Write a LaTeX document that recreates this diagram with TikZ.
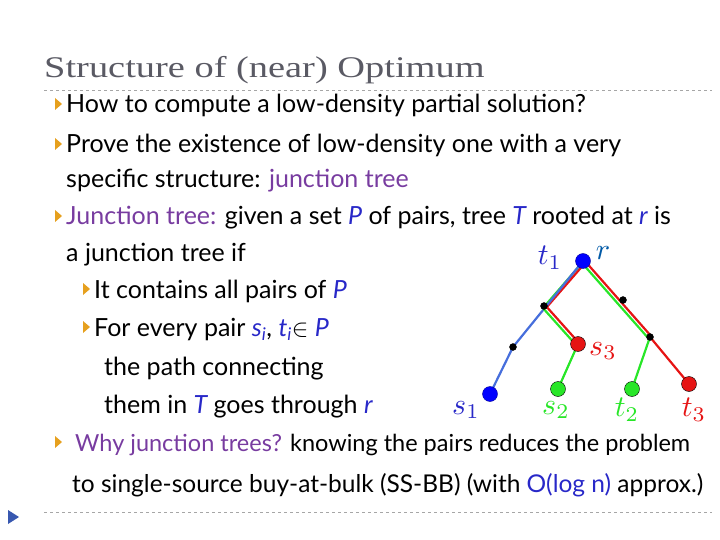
\documentclass[tikz,border=0pt]{standalone}
\usepackage{graphicx}
\usepackage{fontspec}
\setmainfont{Lato}
\newfontfamily\titlefont{Liberation Serif}
\usetikzlibrary{calc}
\definecolor{ttl}{RGB}{90,90,100}
\definecolor{pur}{RGB}{120,60,160}
\definecolor{blu}{RGB}{40,40,200}
\definecolor{bul}{RGB}{230,160,30}
\definecolor{gr}{RGB}{40,230,40}
\definecolor{rd}{RGB}{230,20,20}
\definecolor{lb}{RGB}{70,110,220}
\newcommand{\treelab}[1]{\scalebox{3}{$#1$}}
\begin{document}
\begin{tikzpicture}[x=1pt,y=-1pt,
  txt/.style={anchor=base west,inner sep=0pt,font=\fontsize{25}{28}\selectfont},
  bl/.style={fill=bul},
  lab/.style={inner sep=0pt},
  dot/.style={circle,draw=black,inner sep=0pt,minimum size=#1},
  eg/.style={line width=2.2pt}]
\useasboundingbox (0,0) rectangle (720,540);
\node[anchor=base west,inner sep=0pt,text=ttl,font=\titlefont\fontsize{30}{34}\selectfont] (title) at (44,78) {\scalebox{1.28}[1]{Structure of (near) Optimum}};
\draw[dashed,draw=gray!70] (44,90) -- (712,90);
\draw[dashed,draw=gray!70] (44,512) -- (712,512);
\fill[fill=lb!80!black] (8,510) -- (19,517) -- (8,524) -- cycle;
\foreach \y in {113,153,225,451}{\fill[bl] (55,\y-15) -- (62,\y-9) -- (55,\y-3) -- cycle;}
\foreach \y in {298,336}{\fill[bl] (83,\y-15) -- (90,\y-9) -- (83,\y-3) -- cycle;}
\node[txt] (l1) at (66,113) {How to compute a low-density partial solution?};
\node[txt] (l2) at (66,153) {Prove the existence of low-density one with a very};
\node[txt] (l3) at (66,188) {specific structure: \textcolor{pur}{junction tree}};
\node[txt] (l4) at (66,225) {\textcolor{pur}{Junction tree:} given a set \textcolor{blu}{\itshape P} of pairs, tree \textcolor{blu}{\itshape T} rooted at \textcolor{blu}{\itshape r} is};
\node[txt] (l5) at (66,261) {a junction tree if};
\node[txt] (l6) at (94,298) {It contains all pairs of \textcolor{blu}{\itshape P}};
\node[txt] (l7) at (94,336) {For every pair \textcolor{blu}{\itshape s\textsubscript{i}}, \textcolor{blu}{\itshape t\textsubscript{i}}$\in$ \textcolor{blu}{\itshape P}};
\node[txt] (l8) at (104,375) {the path connecting};
\node[txt] (l9) at (104,413) {them in \textcolor{blu}{\itshape T} goes through \textcolor{blu}{\itshape r}};
\node[txt,font=\fontsize{23.5}{28}\selectfont] (l10) at (75,451) {\textcolor{pur}{Why junction trees?} knowing the pairs reduces the problem};
\node[txt,font=\fontsize{24.5}{28}\selectfont] (l11) at (72,492) {to single-source buy-at-bulk (SS-BB) (with \textcolor{blu}{O(log n)} approx.)};
% tree
\coordinate (r) at (583,261);
\coordinate (a) at (544,306);
\coordinate (b) at (623,300);
\coordinate (c) at (513,347);
\coordinate (s3) at (578,344);
\coordinate (b2) at (650,337);
\coordinate (s1) at (490,394);
\coordinate (s2) at (558,389);
\coordinate (t2) at (632,389);
\coordinate (t3) at (689,384);
\draw[eg,gr] ($(r)+(-1,2)$) -- ($(a)+(-1,2)$);
\draw[eg,rd] ($(r)+(2,2)$) -- ($(a)+(2,2)$);
\draw[eg,lb] (r) -- (c) -- (s1);
\draw[eg,gr] ($(a)+(-2,1)$) -- ($(s3)+(-2,1)$);
\draw[eg,rd] ($(a)+(1,-1)$) -- ($(s3)+(1,-1)$);
\draw[eg,gr] (s3) -- (s2);
\draw[eg,gr] ($(r)+(-1,2)$) -- ($(b2)+(-1,2)$);
\draw[eg,rd] ($(r)+(1,-1)$) -- ($(b2)+(1,-1)$);
\draw[eg,gr] (b2) -- (t2);
\draw[eg,rd] (b2) -- (t3);
\foreach \p in {a,b,c,b2}{\node[dot=7pt,fill=black] (n\p) at (\p) {};}
\node[dot=15pt,fill=blue,draw=blue!60!black] (nr) at (r) {};
\node[dot=15pt,fill=blue,draw=blue!60!black] (ns1) at (s1) {};
\node[dot=15pt,fill=rd] (ns3) at (s3) {};
\node[dot=15pt,fill=gr] (ns2) at (s2) {};
\node[dot=15pt,fill=gr] (nt2) at (t2) {};
\node[dot=15pt,fill=rd] (nt3) at (t3) {};
\node[lab,text=blu] (Lt1) at (550,258) {\treelab{t_1}};
\node[lab,text=teal!70!blue] (Lr) at (603,253) {\treelab{r}};
\node[lab,text=rd] (Ls3) at (603,351) {\treelab{s_3}};
\node[lab,text=blu] (Ls1) at (466,410) {\treelab{s_1}};
\node[lab,text=gr] (Ls2) at (556,410) {\treelab{s_2}};
\node[lab,text=gr] (Lt2) at (627,410) {\treelab{t_2}};
\node[lab,text=rd] (Lt3) at (694,410) {\treelab{t_3}};
\end{tikzpicture}
\end{document}
